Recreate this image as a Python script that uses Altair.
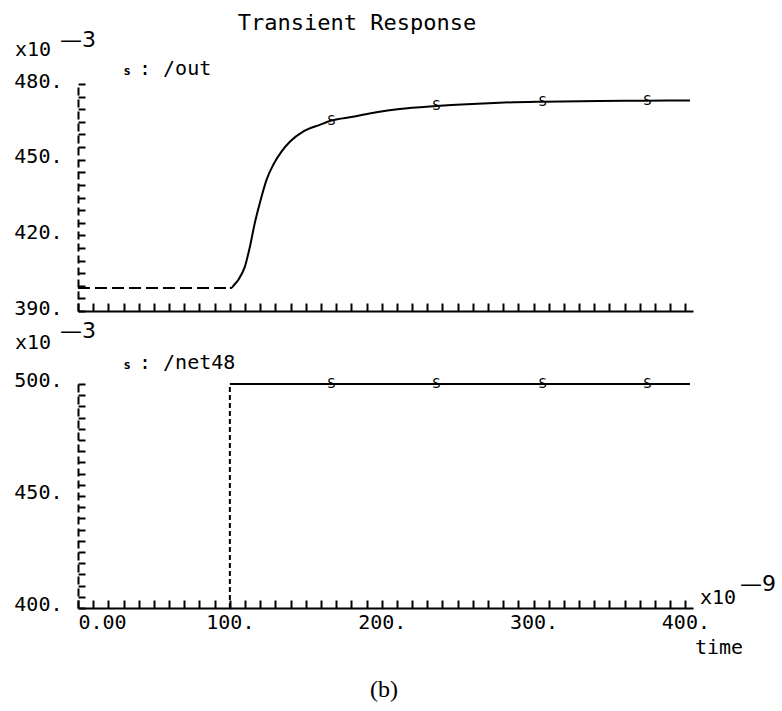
import altair as alt
import pandas as pd

# ---------------- data ----------------
out_t = [0, 100, 100, 101.1, 102.6, 105.5, 109.9, 113.2, 116.4, 119.7, 124.1, 128.5,
         134.0, 139.5, 148.2, 159.2, 166.9, 181.1, 196.5, 211.8, 236.0, 277.6,
         306.1, 343.4, 374.1, 403.0]
out_v = [399.1, 399.1, 399.1, 399.2, 400.2, 402.3, 407.6, 415.5, 424.8, 432.7, 441.9, 447.9,
         453.2, 457.1, 461.1, 463.8, 465.5, 467.0, 468.8, 470.1, 471.3, 472.6,
         473.0, 473.3, 473.4, 473.5]
out_seg = ["pre", "pre"] + ["post"] * 24

net_t = [100, 100, 100, 403]
net_v = [400, 500, 500, 500]
net_seg = ["rise", "rise", "high", "high"]

mark_t = [167, 236, 306, 375]
out_mark_v = [465.5, 471.3, 473.0, 473.4]
net_mark_v = [500, 500, 500, 500]

x_tick_values = list(range(0, 401, 10))
x_label_values = [0, 100, 200, 300, 400]
x_label_text = ["0.00", "100.", "200.", "300.", "400."]

top_tick_values = list(range(390, 481, 5))
top_label_values = [390, 420, 450, 480]
top_label_text = ["390.", "420.", "450.", "480."]

bot_tick_values = list(range(400, 501, 5))
bot_label_values = [400, 450, 500]
bot_label_text = ["400.", "450.", "500."]

out_df = pd.DataFrame({"t": out_t, "v": out_v, "seg": out_seg})
net_df = pd.DataFrame({"t": net_t, "v": net_v, "seg": net_seg})
out_mark_df = pd.DataFrame({"t": mark_t, "v": out_mark_v})
net_mark_df = pd.DataFrame({"t": mark_t, "v": net_mark_v})
dummy = pd.DataFrame({"a": [0]})

# ---------------- layout ----------------
W, H = 615, 524
TOP_H = 227
BOT_TOP = 300
FONT = "DejaVu Sans Mono"


def label_expr(vals, texts):
    return " : ".join(f"datum.value == {v} ? '{s}'" for v, s in zip(vals, texts)) + " : ''"


xs = alt.Scale(domain=[0, 405], nice=False, zero=False)
ys_top = alt.Scale(domain=[390, 480], range=[TOP_H, 0], nice=False, zero=False)
ys_bot = alt.Scale(domain=[400, 500], range=[H, BOT_TOP], nice=False, zero=False)

common = dict(title=None, grid=False)

top_x_main = alt.Axis(orient="bottom", offset=-(H - TOP_H), labels=False, ticks=False,
                      tickSize=0, domain=True, domainWidth=2, domainColor="black", **common)
top_x_ticks = alt.Axis(orient="bottom", offset=-(H - TOP_H) - 8, values=x_tick_values,
                       labels=False, domain=False, ticks=True, tickSize=8, tickWidth=2,
                       tickColor="black", **common)
bot_x_main = alt.Axis(orient="bottom", values=x_tick_values, ticks=False, tickSize=0,
                      labelExpr=label_expr(x_label_values, x_label_text),
                      labelFont=FONT, labelFontSize=20, labelPadding=4, labelFlush=True,
                      labelOverlap=False, labelBound=False, labelColor="black",
                      domain=True, domainWidth=2, domainColor="black", **common)
bot_x_ticks = alt.Axis(orient="bottom", offset=-8, values=x_tick_values, labels=False,
                       domain=False, ticks=True, tickSize=8, tickWidth=2,
                       tickColor="black", **common)

top_y_main = alt.Axis(orient="left", values=top_tick_values, ticks=False, tickSize=0,
                      labelExpr=label_expr(top_label_values, top_label_text),
                      labelFont=FONT, labelFontSize=20, labelPadding=16, labelOffset=-3,
                      labelOverlap=False, labelBound=False, labelFlush=False,
                      labelColor="black", domain=True, domainWidth=2,
                      domainColor="black", domainDash=[8, 4], **common)
top_y_ticks = alt.Axis(orient="left", offset=-7, values=top_tick_values, labels=False,
                       domain=False, ticks=True, tickSize=7, tickWidth=2,
                       tickColor="black", **common)
bot_y_main = alt.Axis(orient="left", values=bot_tick_values, ticks=False, tickSize=0,
                      labelExpr=label_expr(bot_label_values, bot_label_text),
                      labelFont=FONT, labelFontSize=20, labelPadding=16, labelOffset=-4,
                      labelOverlap=False, labelBound=False, labelFlush=False,
                      labelColor="black", domain=True, domainWidth=2,
                      domainColor="black", domainDash=[8, 4], **common)
bot_y_ticks = alt.Axis(orient="left", offset=-7, values=bot_tick_values, labels=False,
                       domain=False, ticks=True, tickSize=7, tickWidth=2,
                       tickColor="black", **common)

# ---------------- traces ----------------
top_pre = alt.Chart(out_df).transform_filter(alt.datum.seg == "pre").mark_line(
    color="black", strokeWidth=2, strokeDash=[12, 5], clip=True
).encode(x=alt.X("t:Q", scale=xs, axis=top_x_main),
         y=alt.Y("v:Q", scale=ys_top, axis=top_y_main))

top_post = alt.Chart(out_df).transform_filter(alt.datum.seg == "post").mark_line(
    color="black", strokeWidth=2, interpolate="monotone", clip=True
).encode(x=alt.X("t:Q", scale=xs, axis=None),
         y=alt.Y("v:Q", scale=ys_top, axis=None))

top_marks = alt.Chart(out_mark_df).mark_text(
    text="S", font=FONT, fontSize=14, color="black"
).encode(x=alt.X("t:Q", scale=xs, axis=top_x_ticks),
         y=alt.Y("v:Q", scale=ys_top, axis=top_y_ticks))

bot_rise = alt.Chart(net_df).transform_filter(alt.datum.seg == "rise").mark_line(
    color="black", strokeWidth=2, strokeDash=[5, 3], clip=True
).encode(x=alt.X("t:Q", scale=xs, axis=bot_x_main),
         y=alt.Y("v:Q", scale=ys_bot, axis=bot_y_main))

bot_high = alt.Chart(net_df).transform_filter(alt.datum.seg == "high").mark_line(
    color="black", strokeWidth=2, clip=True
).encode(x=alt.X("t:Q", scale=xs, axis=None),
         y=alt.Y("v:Q", scale=ys_bot, axis=None))

bot_marks = alt.Chart(net_mark_df).mark_text(
    text="S", font=FONT, fontSize=14, color="black"
).encode(x=alt.X("t:Q", scale=xs, axis=bot_x_ticks),
         y=alt.Y("v:Q", scale=ys_bot, axis=bot_y_ticks))


def note(txt, x, y, size=20, align="left", font=FONT, weight="normal"):
    return alt.Chart(dummy).mark_text(
        text=txt, align=align, baseline="middle", font=font, fontSize=size,
        fontWeight=weight, color="black"
    ).encode(x=alt.value(x), y=alt.value(y))


notes = [
    note("Transient Response", 279, -61, size=22, align="center"),
    note("x10", -63, -34),
    note("\u20143", -18, -44, size=22, font="DejaVu Sans"),
    note("s", 49, -13, size=12, align="center", weight="bold"),
    note(": /out", 61, -15),
    note("x10", -63, 259),
    note("\u20143", -18, 247, size=22, font="DejaVu Sans"),
    note("s", 49, 281, size=12, align="center", weight="bold"),
    note(": /net48", 61, 279),
    note("x10", 622, 514),
    note("\u20149", 662, 500, size=22, font="DejaVu Sans"),
    note("time", 641, 564, align="center"),
    note("(b)", 306, 606, size=24, align="center", font="Liberation Serif"),
]

chart = alt.layer(top_pre, top_post, top_marks, bot_rise, bot_high, bot_marks, *notes).resolve_scale(
    y="independent"
).resolve_axis(
    x="independent", y="independent"
).properties(
    width=W, height=H,
    padding={"left": 78, "top": 84, "right": 89, "bottom": 103},
    autosize=alt.AutoSizeParams(type="none"),
    background="white",
).configure_view(stroke=None).configure_axis(grid=False)

chart.save("out.html", embed_options={"renderer": "svg", "actions": False})
